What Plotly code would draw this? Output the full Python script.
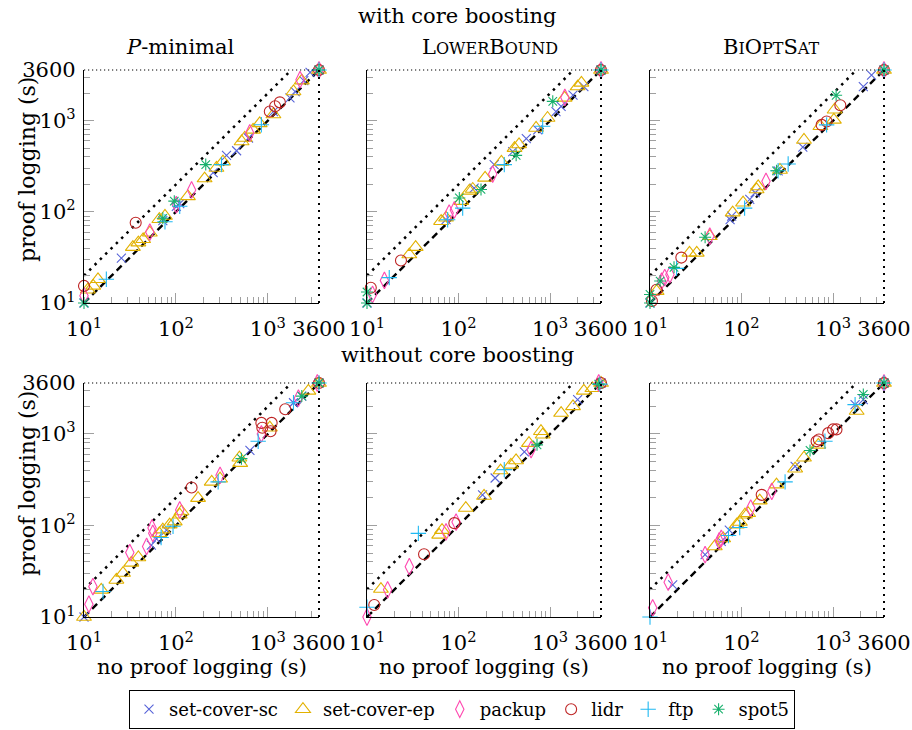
import math
import plotly.graph_objects as go

# ---------------- data (seconds) ----------------
SERIES = ["set-cover-sc", "set-cover-ep", "packup", "lidr", "ftp", "spot5"]
COLORS = ["#5662d8", "#e2b100", "#ff48b0", "#be2424", "#1fb9f2", "#17b06c"]
SYMBOLS = ["x-thin-open", "triangle-up-open", "diamond-tall-open", "circle-open", "cross-thin-open", "asterisk-open"]

ROW_TITLES = ["with core boosting", "without core boosting"]
COL_TITLES = ["<i>P</i>-minimal",
              "L<span style='font-size:16px'>OWER</span>B<span style='font-size:16px'>OUND</span>",
              "B<span style='font-size:16px'>I</span>O<span style='font-size:16px'>PT</span>S<span style='font-size:16px'>AT</span>"]
TICK_VALS = [10, 100, 1000, 3600]
TICK_TEXT = ["10<sup>1</sup>", "10<sup>2</sup>", "10<sup>3</sup>", "3600"]
MINOR_VALS = [20, 30, 40, 50, 60, 70, 80, 90, 200, 300, 400, 500, 600, 700, 800, 900, 2000, 3000]
TIMEOUT = 3600
LOWEST = 10

# with core boosting, P-minimal
CB_PMIN_SC = [(10, 10), (25.5, 31), (72, 80), (101, 115), (110, 123), (254, 269), (355, 417), (457, 468), (616, 646),
              (1150, 1260), (1740, 1780), (1980, 2090), (2460, 2750), (2880, 3390), (3600, 3600)]
CB_PMIN_EP = [(11, 14), (12.6, 15.4), (14.2, 18.2), (34, 41), (39, 46), (44, 50), (52, 59), (66, 83), (76, 90),
              (135, 148), (205, 232), (276, 303), (325, 356), (518, 591), (560, 646), (690, 793), (815, 935),
              (1150, 1170), (1900, 2090), (2340, 2750), (3600, 3600)]
CB_PMIN_PK = [(10, 12), (52, 60), (101, 120), (148, 174), (635, 733), (2240, 2820), (3600, 3600)]
CB_PMIN_LI = [(10, 15.4), (36.5, 76), (1050, 1260), (1200, 1440), (1350, 1590), (3600, 3600)]
CB_PMIN_FT = [(17.5, 18.2), (76, 78), (110, 115), (313, 330), (850, 904), (3600, 3600)]
CB_PMIN_S5 = [(10, 10), (72, 85), (96, 131), (211, 330), (3600, 3600)]

# with core boosting, LowerBound
CB_LB_SC = [(10, 10), (73, 82), (148, 182), (245, 330), (391, 457), (550, 636), (733, 793), (1160, 1260),
            (1320, 1440), (1780, 1910), (2340, 2370), (3600, 3600)]
CB_LB_EP = [(29, 34), (34, 41), (64.5, 79), (73, 86), (107, 131), (131, 170), (143, 178), (195, 236), (294, 353),
            (409, 500), (458, 549), (703, 832), (938, 1070), (1440, 1780), (2000, 2370), (2200, 2600), (3600, 3600)]
CB_LB_PK = [(11.5, 12.4), (15.5, 17.7), (79, 97), (90, 105), (236, 260), (1450, 1800), (3600, 3600)]
CB_LB_LI = [(11, 14.7), (23.5, 29.3), (3600, 3600)]
CB_LB_FT = [(17.5, 19), (76, 82), (111, 110), (316, 330), (830, 870), (3600, 3600)]
CB_LB_S5 = [(10, 10), (10, 13.2), (102, 142), (176, 176), (426, 417), (1070, 1630), (3600, 3600)]

# with core boosting, BiOptSat
CB_BOS_SC = [(10, 10), (75, 82), (78, 90), (123, 137), (141, 162), (251, 282), (467, 513), (2140, 2370),
             (2630, 3170), (3600, 3600)]
CB_BOS_EP = [(11.8, 13.5), (27, 35.5), (32.4, 35.5), (45, 54), (80, 98), (104, 126), (146, 176), (152, 190),
             (263, 288), (481, 614), (727, 870), (1020, 1020), (1040, 1320), (3600, 3600)]
CB_BOS_PK = [(13.4, 17.4), (14.5, 19), (16.5, 20.5), (45, 54), (185, 216), (3600, 3600)]
CB_BOS_LI = [(10.5, 10.5), (11.8, 14), (22, 31.5), (750, 900), (851, 980), (1200, 1480), (3600, 3600)]
CB_BOS_FT = [(19.5, 24), (108, 110), (251, 282), (323, 335), (850, 900), (3600, 3600)]
CB_BOS_S5 = [(10, 10), (10, 12.4), (12.9, 17.4), (18.3, 24.6), (40, 52.7), (241, 282), (1080, 1900), (3600, 3600)]

# without core boosting, P-minimal
NCB_PMIN_SC = [(10, 10), (54, 61), (61.5, 71.5), (79, 89), (638, 660), (1900, 2190), (2340, 2590), (3600, 3600)]
NCB_PMIN_EP = [(10, 10), (15.4, 19.8), (22.5, 25.4), (26.6, 30.2), (32.7, 39), (39, 44.7), (66, 82), (72, 90),
               (85.5, 102), (97, 110), (110, 131), (115, 142), (174, 199), (245, 299), (302, 324), (490, 549),
               (500, 480), (1050, 1170), (2760, 2950), (3600, 3600)]
NCB_PMIN_PK = [(11.3, 13.8), (12.5, 21.5), (31.5, 50.5), (48, 59), (56, 82), (55, 94), (110, 148), (302, 353),
               (850, 1000), (2150, 2460), (3450, 3600)]
NCB_PMIN_LI = [(148, 260), (850, 1320), (870, 1170), (1100, 1320), (1070, 1070), (1545, 1860), (3600, 3600)]
NCB_PMIN_FT = [(16.1, 19), (69, 74), (93, 98), (288, 299), (785, 832), (1900, 2190), (3600, 3600)]
NCB_PMIN_S5 = [(516, 537), (2340, 2590), (3600, 3600)]

# without core boosting, LowerBound
NCB_LB_SC = [(183, 216), (251, 330), (524, 636), (2000, 2370), (3600, 3600)]
NCB_LB_EP = [(14.2, 20.2), (61.5, 79), (66, 89), (120, 155), (190, 210), (288, 398), (373, 459), (425, 513),
             (588, 794), (795, 1070), (830, 980), (1320, 1690), (1780, 2000), (2340, 2950), (2900, 3150),
             (3600, 3600)]
NCB_LB_PK = [(10, 10), (16.8, 19.8), (29, 35.5), (73, 85), (94, 109), (620, 675), (3400, 3600)]
NCB_LB_LI = [(12, 13.5), (42, 48.5), (90, 106), (3600, 3600)]
NCB_LB_FT = [(10, 12.8), (36.4, 82), (316, 407), (3500, 3500)]
NCB_LB_S5 = [(720, 760), (3400, 3500)]

# without core boosting, BiOptSat
NCB_BOS_SC = [(17.7, 22.4), (40, 48), (60, 67), (73.5, 89), (385, 441), (1740, 2090), (2140, 2370), (3600, 3600)]
NCB_BOS_EP = [(51, 59), (63, 72), (88.6, 102), (96, 109), (109, 131), (118, 136), (158, 187), (241, 279),
              (385, 417), (481, 549), (690, 760), (1810, 1780), (3600, 3600)]
NCB_BOS_PK = [(10.7, 12.6), (15.8, 24), (40, 48), (57, 67.7), (60, 72), (126, 155), (214, 236), (3600, 3600)]
NCB_BOS_LI = [(166, 216), (660, 832), (700, 870), (885, 1020), (1000, 1120), (1090, 1120), (3600, 3600)]
NCB_BOS_FT = [(10, 10), (72, 77.6), (95.5, 95), (299, 299), (815, 832), (1740, 2090), (3600, 3600)]
NCB_BOS_S5 = [(560, 660), (2140, 2700), (3600, 3600)]

PANELS = [
    [CB_PMIN_SC, CB_PMIN_EP, CB_PMIN_PK, CB_PMIN_LI, CB_PMIN_FT, CB_PMIN_S5],
    [CB_LB_SC, CB_LB_EP, CB_LB_PK, CB_LB_LI, CB_LB_FT, CB_LB_S5],
    [CB_BOS_SC, CB_BOS_EP, CB_BOS_PK, CB_BOS_LI, CB_BOS_FT, CB_BOS_S5],
    [NCB_PMIN_SC, NCB_PMIN_EP, NCB_PMIN_PK, NCB_PMIN_LI, NCB_PMIN_FT, NCB_PMIN_S5],
    [NCB_LB_SC, NCB_LB_EP, NCB_LB_PK, NCB_LB_LI, NCB_LB_FT, NCB_LB_S5],
    [NCB_BOS_SC, NCB_BOS_EP, NCB_BOS_PK, NCB_BOS_LI, NCB_BOS_FT, NCB_BOS_S5],
]

# ---------------- layout geometry ----------------
W, H = 912, 730
FONT = "DejaVu Serif"
COL_PX = [(84, 319), (367, 601), (650, 884)]
ROW_PX = [(70, 303), (383, 617)]
SIZES = [9, 13, 12, 11, 11, 10]


def px_x(p):
    return p / W


def px_y(p):
    return 1 - p / H


fig = go.Figure()

for i, panel in enumerate(PANELS):
    n = i + 1
    xa = "x" if n == 1 else f"x{n}"
    ya = "y" if n == 1 else f"y{n}"
    # reference lines y = x (dashed) and y = 2x (dotted)
    fig.add_trace(go.Scatter(x=[LOWEST, TIMEOUT], y=[LOWEST, TIMEOUT], mode="lines", xaxis=xa, yaxis=ya,
                             line=dict(color="black", width=2.4, dash="7px,4.5px"), showlegend=False,
                             hoverinfo="skip"))
    fig.add_trace(go.Scatter(x=[LOWEST, TIMEOUT / 2], y=[2 * LOWEST, TIMEOUT], mode="lines", xaxis=xa, yaxis=ya,
                             line=dict(color="black", width=2.5, dash="2.5px,5px"), showlegend=False,
                             hoverinfo="skip"))
    for s, pts in enumerate(panel):
        fig.add_trace(go.Scatter(
            x=[p[0] for p in pts], y=[p[1] for p in pts], mode="markers", xaxis=xa, yaxis=ya,
            name=SERIES[s], legendgroup=SERIES[s], showlegend=(i == 0), cliponaxis=False,
            marker=dict(symbol=SYMBOLS[s], size=SIZES[s], color=COLORS[s],
                        line=dict(color=COLORS[s], width=1.1))))

axis_common = dict(
    type="log", range=[1, math.log10(TIMEOUT)], showline=True, linecolor="black", linewidth=1.3,
    mirror=False, showgrid=False, zeroline=False, automargin=False, ticks="inside", ticklen=10, tickwidth=1,
    tickcolor="#a0a0a0", tickvals=TICK_VALS, ticktext=TICK_TEXT,
    tickfont=dict(family=FONT, size=21, color="black"),
    minor=dict(ticks="inside", ticklen=6, tickwidth=1, tickcolor="#a0a0a0", tickvals=MINOR_VALS),
)

layout = dict(template="none", width=W, height=H, margin=dict(l=0, r=0, t=0, b=0, pad=0, autoexpand=False),
              plot_bgcolor="white", paper_bgcolor="white", font=dict(family=FONT, size=21, color="black"))

shapes = []
for i in range(6):
    n = i + 1
    r, c = divmod(i, 3)
    xk = "xaxis" if n == 1 else f"xaxis{n}"
    yk = "yaxis" if n == 1 else f"yaxis{n}"
    xa = "x" if n == 1 else f"x{n}"
    ya = "y" if n == 1 else f"y{n}"
    layout[xk] = dict(axis_common, domain=[px_x(COL_PX[c][0]), px_x(COL_PX[c][1])], anchor=ya,
                      ticklabelstandoff=7)
    layout[yk] = dict(axis_common, domain=[px_y(ROW_PX[r][1]), px_y(ROW_PX[r][0])], anchor=xa,
                      showticklabels=(c == 0), ticklabelstandoff=3)
    # dotted top and right frame
    shapes.append(dict(type="line", xref=f"{xa} domain", yref=f"{ya} domain", x0=0, x1=1, y0=1, y1=1,
                       line=dict(color="black", width=1.2, dash="1.2px,2.8px")))
    shapes.append(dict(type="line", xref=f"{xa} domain", yref=f"{ya} domain", x0=1, x1=1, y0=0, y1=1,
                       line=dict(color="black", width=2, dash="2px,5px")))

annotations = []
annotations.append(dict(text=ROW_TITLES[0], x=px_x(458), y=px_y(16), xref="paper", yref="paper",
                        showarrow=False, xanchor="center", yanchor="middle"))
annotations.append(dict(text=ROW_TITLES[1], x=px_x(458), y=px_y(355), xref="paper", yref="paper",
                        showarrow=False, xanchor="center", yanchor="middle"))
title_x = [180, 490, 771]
for c in range(3):
    annotations.append(dict(text=COL_TITLES[c], x=px_x(title_x[c]), y=px_y(47), xref="paper", yref="paper",
                            showarrow=False, xanchor="center", yanchor="middle"))
    annotations.append(dict(text="no proof logging (s)", x=px_x((COL_PX[c][0] + COL_PX[c][1]) / 2),
                            y=px_y(667), xref="paper", yref="paper", showarrow=False,
                            xanchor="center", yanchor="middle"))
for yc in [170, 484]:
    annotations.append(dict(text="proof logging (s)", x=px_x(27), y=px_y(yc), xref="paper", yref="paper",
                            showarrow=False, textangle=-90, xanchor="center", yanchor="middle",
                            font=dict(family=FONT, size=22, color="black")))

layout["shapes"] = shapes
layout["annotations"] = annotations
layout["legend"] = dict(orientation="h", x=px_x(462), xanchor="center", y=px_y(690), yanchor="top",
                        bordercolor="black", borderwidth=1, bgcolor="white",
                        font=dict(family=FONT, size=18, color="black"), itemwidth=30, tracegroupgap=0)
fig.update_layout(**layout)

fig.write_html("out.html", config={"displayModeBar": False},
               post_script="document.body.style.margin='0px';document.body.style.overflow='hidden';")
